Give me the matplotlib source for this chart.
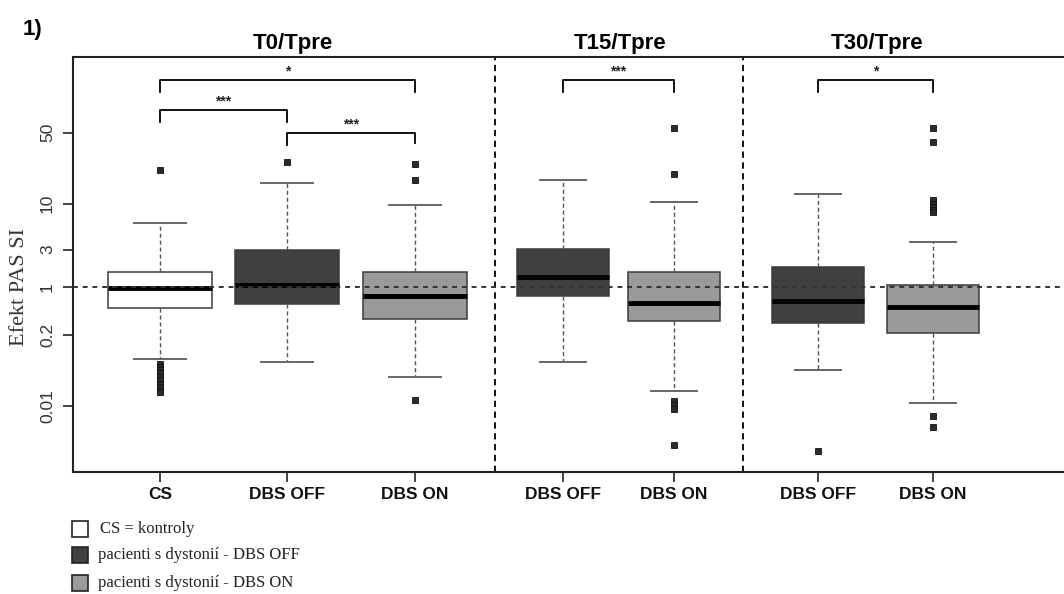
import numpy as np
import matplotlib
matplotlib.use("Agg")
import matplotlib.pyplot as plt
from matplotlib.patches import Rectangle
from matplotlib.transforms import blended_transform_factory

# Box statistics per group (PAS SI effect, ratio to Tpre)
labels = ["CS", "DBS OFF", "DBS ON", "DBS OFF", "DBS ON", "DBS OFF", "DBS ON"]
kinds = ["cs", "off", "on", "off", "on", "off", "on"]
whis_lo = [0.079, 0.0705, 0.0372, 0.0705, 0.0202, 0.0514, 0.0117]
q1 = [0.51, 0.587, 0.355, 0.76, 0.331, 0.302, 0.217]
median = [0.98, 1.064, 0.76, 1.36, 0.606, 0.648, 0.527]
q3 = [1.59, 2.97, 1.59, 3.03, 1.59, 1.84, 1.06]
whis_hi = [6.2, 16.5, 9.67, 17.6, 10.4, 12.6, 3.73]
outliers = [
    [22.2, 0.065, 0.057, 0.05, 0.044, 0.038, 0.033, 0.028, 0.024, 0.021, 0.019],
    [26.8],
    [25.4, 17.6, 0.0133],
    [],
    [55.7, 20.4, 0.0128, 0.0105, 0.0085, 0.00118],
    [0.00082],
    [55.0, 40.9, 10.9, 10.0, 9.2, 8.5, 8.1, 0.006, 0.0034],
]

positions = [1.0, 1.996, 3.0, 4.161, 5.031, 6.161, 7.063]
widths = [0.81, 0.81, 0.81, 0.722, 0.722, 0.722, 0.722]
separators = [3.627, 5.573]

panel_titles = ["T0/Tpre", "T15/Tpre", "T30/Tpre"]
panel_title_x = [293, 620, 877]

# significance brackets: x1, x2, bar height, left leg end, right leg end (axes fraction), stars
brackets = [
    (1.0, 3.0, 0.9446, 0.9157, 0.9157, "*"),
    (1.0, 1.996, 0.8723, 0.8434, 0.8434, "***"),
    (1.996, 3.0, 0.8169, 0.788, 0.793, "***"),
    (4.161, 5.031, 0.9446, 0.9157, 0.9157, "***"),
    (6.161, 7.063, 0.9446, 0.9157, 0.9157, "*"),
]

legend_labels = ["CS = kontroly", "pacienti s dystonií - DBS OFF", "pacienti s dystonií - DBS ON"]

fills = {"cs": "#ffffff", "off": "#404040", "on": "#9a9a9a"}
SANS = ["Liberation Sans", "DejaVu Sans"]
SERIF = ["Liberation Serif", "DejaVu Serif"]

W, H = 1064, 594
fig = plt.figure(figsize=(W / 100, H / 100), dpi=100)


def fx(px):
    return px / W


def fy(py):
    return 1 - py / H


ax = fig.add_axes([fx(73), fy(472), fx(W - 73), (472 - 57) / H])

# power-law y axis (x^0.1), behaves like a softened log scale
def fwd(v):
    return np.power(np.clip(v, 1e-12, None), 0.1)


def inv(v):
    return np.power(np.clip(v, 0, None), 10.0)


ax.set_yscale("function", functions=(fwd, inv))

stats = []
for i in range(len(labels)):
    stats.append(dict(med=median[i], q1=q1[i], q3=q3[i],
                      whislo=whis_lo[i], whishi=whis_hi[i],
                      fliers=outliers[i], label=labels[i]))

bp = ax.bxp(stats, positions=positions, widths=widths,
            capwidths=[w * 0.5 for w in widths], patch_artist=True,
            boxprops=dict(edgecolor="#3a3a3a", linewidth=1.1),
            medianprops=dict(color="black", linewidth=3.5, solid_capstyle="butt"),
            whiskerprops=dict(color="#555555", linewidth=1.0, linestyle=(0, (3, 2))),
            capprops=dict(color="#666666", linewidth=1.4),
            flierprops=dict(marker="s", markersize=5, markerfacecolor="#2b2b2b",
                            markeredgecolor="#111111", markeredgewidth=0.6,
                            linestyle="none"))
for patch, kind in zip(bp["boxes"], kinds):
    patch.set_facecolor(fills[kind])

ax.set_xlim(0.318, 8.09)
ax.set_ylim(1.94e-4, 219)

# reference line at 1 and panel separators
ax.axhline(1, color="#333333", linewidth=1.4, linestyle=(0, (2.5, 2.5)), zorder=3)
for xs in separators:
    ax.axvline(xs, color="black", linewidth=1.3, linestyle=(0, (3.5, 2.5)), zorder=1)

trans = blended_transform_factory(ax.transData, ax.transAxes)
for x1, x2, yb, yl, yr, stars in brackets:
    ax.plot([x1, x1, x2, x2], [yl, yb, yb, yr], color="black", linewidth=1.3,
            transform=trans, clip_on=False)
    ax.text((x1 + x2) / 2, yb + 0.004, stars, transform=trans, ha="center", va="bottom",
            fontsize=10, fontweight="bold", family=SANS, color="#222222")

for side in ["left", "top", "bottom"]:
    ax.spines[side].set_linewidth(1.5)
    ax.spines[side].set_color("#222222")
ax.spines["right"].set_visible(False)

ax.set_yticks([0.01, 0.2, 1, 3, 10, 50])
ax.set_yticklabels(["0.01", "0.2", "1", "3", "10", "50"], rotation=90, va="center",
                   fontsize=12.5, family=SANS, color="#333333")
ax.yaxis.set_minor_locator(matplotlib.ticker.NullLocator())
ax.tick_params(axis="y", length=7, width=1.2, pad=6, color="#222222")

ax.set_xticks(positions)
ax.set_xticklabels(labels, fontsize=12.5, fontweight="bold", family=SANS, color="#111111")
ax.tick_params(axis="x", length=7, width=1.2, pad=4, color="#222222")

for title, tx in zip(panel_titles, panel_title_x):
    fig.text(fx(tx), fy(49), title, ha="center", va="baseline", fontsize=16,
             fontweight="bold", family=SANS)
fig.text(fx(23), fy(35), "1)", ha="left", va="baseline", fontsize=16,
         fontweight="bold", family=SANS)

fig.text(fx(20), fy(287), "Efekt PAS SI", rotation=90, ha="center", va="center",
         fontsize=16, family=SERIF, color="#2f3540")

# legend rows below the axis
for row, (lab, kind) in enumerate(zip(legend_labels, kinds[:3])):
    cy = [529, 555, 583][row]
    fig.patches.append(Rectangle((fx(72), fy(cy + 8)), fx(16), 16 / H,
                                 transform=fig.transFigure, facecolor=fills[kind],
                                 edgecolor="#222222", linewidth=1.2))
    fig.text(fx(98 if row else 100), fy(cy), lab, ha="left", va="center", fontsize=12,
             family=SERIF, color="#222222")

fig.savefig("out.png", dpi=100)
